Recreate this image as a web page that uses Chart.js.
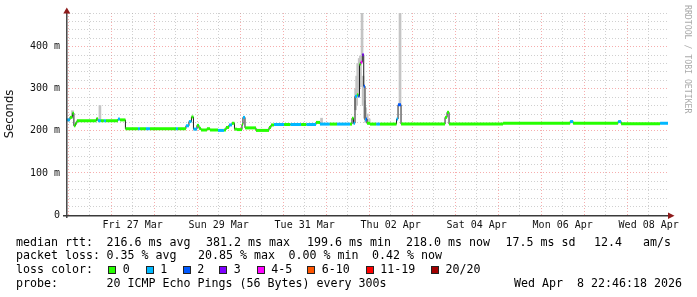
<!DOCTYPE html>
<html><head><meta charset="utf-8">
<script src="https://cdn.jsdelivr.net/npm/chart.js@4/dist/chart.umd.min.js"></script>
<style>
html,body{margin:0;padding:0;background:#fff;}
#wrap{position:relative;width:697px;height:297px;overflow:hidden;background:#fff;}
canvas{position:absolute;left:0;top:0;}
.t{position:absolute;font-family:"DejaVu Sans Mono",monospace;font-size:11.63px;line-height:14px;color:#000;white-space:pre;}
.box{position:absolute;width:6px;height:6px;border:1px solid #222;}
#wm{position:absolute;left:683px;top:5px;writing-mode:vertical-rl;font-family:"DejaVu Sans Mono",monospace;font-size:8.2px;line-height:9px;color:#aaa;white-space:pre;}
</style></head><body>
<div id="wrap"><canvas id="c" width="697" height="297"></canvas><div id="legend"></div><div id="wm">RRDTOOL / TOBI OETIKER</div></div>
<script>
// ---- time axis: hours since Thu 26 Mar 00:00 ----
const tEnd = 334.77;            // Wed 08 Apr 22:46
const tStart = tEnd - 336;      // 14 days earlier
const xTickHours  = [36, 84, 132, 180, 228, 276, 324];
const xTickLabels = ['Fri 27 Mar', 'Sun 29 Mar', 'Tue 31 Mar', 'Thu 02 Apr', 'Sat 04 Apr', 'Mon 06 Apr', 'Wed 08 Apr'];
const yTickValues = [0, 100, 200, 300, 400];
const yTickLabels = ['0', '100 m', '200 m', '300 m', '400 m'];

// ---- median rtt (ms), step series: value holds from time until next time ----
const medTimes = [-1.23, 0.95, 2.35, 3.18, 4.02, 4.86, 15.75, 16.58, 18.26, 19.93, 21.05, 27.75, 28.87, 31.94,
  38.92, 40.03, 43.38, 45.62, 60.13, 61.25, 65.72, 67.39, 68.79, 69.91, 71.86, 72.98, 74.09, 77.44, 79.12,
  83.59, 86.94, 88.05, 89.73, 91.4, 92.8, 94.19, 96.99, 97.54, 98.66, 104.8, 112.06, 113.18, 114.85,
  120.5, 124.0, 130.0, 133.0, 138.3, 140.54, 146.0, 150.0, 157.29, 158.4, 159.24, 160.08, 161.2, 161.92,
  162.59, 163.26, 164.15, 164.94, 165.66, 166.22, 166.78, 168.45, 172.0, 174.0, 183.25, 184.09, 185.76,
  210.33, 211.45, 212.56, 242.71, 280.12, 281.8, 306.92, 308.6, 330.37];
const medValues = [226, 232, 242, 212, 218, 224, 229, 224, 224, 224, 224, 228, 226, 205,
  205, 205, 205, 205, 205, 205, 212, 222, 233, 204, 213, 206, 202, 205, 202,
  201, 202, 208, 214, 218, 204, 203, 215, 232, 207, 201, 208, 214, 215,
  215, 215, 215, 215, 220, 216, 216, 216, 216, 230, 218, 282, 286, 282,
  358, 363, 381, 306, 226, 228, 218, 216, 216, 216, 228, 262, 216,
  232, 244, 216, 218, 222, 218, 222, 217, 218];
// loss bracket index per step (0:"0",1:"1",2:"2",3:"3",4:"4-5",5:"6-10",6:"11-19",7:"20/20")
const medLoss = [1, 0, 0, 0, 0, 0, 0, 1, 0, 1, 0, 1, 0, 0,
  1, 0, 1, 0, 1, 0, 1, 1, 0, 1, 0, 0, 0, 0, 0,
  1, 0, 0, 1, 0, 0, 0, 0, 1, 0, 0, 0, 0, 1,
  0, 1, 0, 1, 0, 1, 0, 1, 0, 0, 1, 1, 0, 2,
  0, 4, 3, 2, 1, 2, 0, 0, 1, 0, 1, 2, 0,
  0, 0, 0, 0, 1, 0, 1, 0, 1];

// ---- smoke (ping spread, ms) ----
const smokeTimes = [2.35, 17.7, 141.4, 160.4, 161.0, 161.6, 162.4, 163.1, 164.0, 164.6, 165.3, 166.0, 166.9, 168.0, 185.2];
const smokeLow   = [236, 226, 216, 250, 262, 286, 300, 305, 381, 260, 230, 220, 218, 216, 262];
const smokeHigh  = [248, 260, 230, 300, 330, 360, 372, 378, 500, 330, 272, 255, 240, 228, 500];

// ---- legend texts ----
const lossLabels = ['0', '1', '2', '3', '4-5', '6-10', '11-19', '20/20'];
const lossColors = ['#26ff00', '#00b8ff', '#0059ff', '#7e00ff', '#ff00ff', '#ff5500', '#ff0000', '#a10000'];
const medianStats = ['216.6 ms avg', '381.2 ms max', '199.6 ms min', '218.0 ms now', '17.5 ms sd', '12.4   am/s'];
const lossStats = ['0.35 % avg', '20.85 % max', '0.00 % min', '0.42 % now'];
const probeText = '20 ICMP Echo Pings (56 Bytes) every 300s';
const stampText = 'Wed Apr  8 22:46:18 2026';

// ---- build legend (HTML text) ----
const L = document.getElementById('legend');
function txt(x, y, s) { const d = document.createElement('div'); d.className = 't'; d.style.left = x + 'px'; d.style.top = y + 'px'; d.textContent = s; L.appendChild(d); return d; }
const medX = [106.5, 206, 307, 406, 505.5, 594];
txt(16, 235, 'median rtt:'); medianStats.forEach((s, i) => txt(medX[i], 235, s));
const lossX = [106.5, 198, 288.5, 372];
txt(16, 248.3, 'packet loss:'); lossStats.forEach((s, i) => txt(lossX[i], 248.3, s));
txt(16, 262.3, 'loss color:');
const boxX = [108.3, 145.7, 182.7, 219.3, 256.7, 307.3, 365.7, 431];
lossLabels.forEach((s, i) => {
  const b = document.createElement('div'); b.className = 'box';
  b.style.left = boxX[i] + 'px'; b.style.top = '265.6px'; b.style.background = lossColors[i]; L.appendChild(b);
  txt(boxX[i] + 14.5, 262.3, s);
});
txt(16, 275.7, 'probe:'); txt(106.5, 275.7, probeText);
const st = txt(0, 275.7, stampText); st.style.left = 'auto'; st.style.right = '15px';

// ---- chart data built from arrays ----
const medPoints = medTimes.map((t, i) => ({x: t, y: medValues[i]}));
medPoints.push({x: tEnd, y: medValues[medValues.length - 1]});
const bandPoints = [];
medTimes.forEach((t, i) => {
  const t2 = i + 1 < medTimes.length ? medTimes[i + 1] : tEnd;
  bandPoints.push({x: t, y: medValues[i]}, {x: t2, y: medValues[i]}, {x: t2, y: null});
});
const smokeOuter = smokeTimes.map((t, i) => ({x: t, y: [smokeLow[i], smokeHigh[i]]}));

const gridHours = [];
for (let h = 0; h <= tEnd; h += 12) gridHours.push(h);
const yGrid = [];
for (let v = 0; v <= 480; v += 20) yGrid.push(v);

const majorGrid = 'rgba(240,120,120,0.6)';
const minorGrid = 'rgba(170,170,170,0.55)';

const axesPlugin = {
  id: 'rrdAxes',
  afterDatasetsDraw(chart) {
    const {ctx, chartArea: a} = chart;
    ctx.save();
    ctx.strokeStyle = '#3a3a3a'; ctx.lineWidth = 1.4;
    ctx.beginPath();
    ctx.moveTo(a.left - 3, a.bottom + 0.7); ctx.lineTo(a.right + 2, a.bottom + 0.7);
    ctx.moveTo(a.left + 0.8, a.bottom + 3); ctx.lineTo(a.left + 0.8, a.top - 3);
    ctx.stroke();
    ctx.fillStyle = '#8e1b1b';
    ctx.beginPath();
    ctx.moveTo(a.right + 6.5, a.bottom + 0.7); ctx.lineTo(a.right, a.bottom - 2.6); ctx.lineTo(a.right, a.bottom + 4); ctx.closePath(); ctx.fill();
    ctx.beginPath();
    ctx.moveTo(a.left + 0.8, a.top - 5.5); ctx.lineTo(a.left - 2.7, a.top + 0.5); ctx.lineTo(a.left + 4.3, a.top + 0.5); ctx.closePath(); ctx.fill();
    ctx.restore();
  }
};

new Chart(document.getElementById('c'), {
  type: 'line',
  data: {datasets: [
    {type: 'line', label: 'median (loss colour)', data: bandPoints, borderWidth: 3, pointRadius: 0, spanGaps: false,
      borderColor: lossColors[0], segment: {borderColor: c => lossColors[medLoss[Math.floor(c.p0DataIndex / 3)]]}, order: 0, clip: 0},
    {type: 'line', label: 'median', data: medPoints, stepped: true, borderColor: '#202020', borderWidth: 1, pointRadius: 0, order: 1, clip: 0},
    {type: 'bar', label: 'smoke', data: smokeOuter, backgroundColor: '#c4c4c4', barThickness: 2, grouped: false, order: 2, clip: 0}
  ]},
  options: {
    responsive: false, animation: false, devicePixelRatio: 1,
    layout: {padding: {left: 0, right: 29, top: 13, bottom: 62}},
    plugins: {legend: {display: false}, tooltip: {enabled: false}},
    events: [],
    scales: {
      x: {type: 'linear', min: tStart, max: tEnd, offset: false,
        afterBuildTicks: s => { s.ticks = gridHours.map(v => ({value: v})); },
        afterFit: s => { s.height = 20; },
        ticks: {autoSkip: false, maxRotation: 0, padding: 4, color: '#111',
          font: {family: 'DejaVu Sans Mono', size: 10},
          callback: v => { const i = xTickHours.indexOf(v); return i >= 0 ? xTickLabels[i] : ''; }},
        grid: {offset: false, drawTicks: false, lineWidth: 1, color: c => (c.tick && c.tick.value % 24 === 0) ? majorGrid : minorGrid},
        border: {display: false, dash: [1, 2]}
      },
      y: {type: 'linear', min: 0, max: 480, beginAtZero: true,
        afterBuildTicks: s => { s.ticks = yGrid.map(v => ({value: v})); },
        afterFit: s => { s.width = 66; },
        ticks: {autoSkip: false, padding: 6, color: '#111',
          font: {family: 'DejaVu Sans Mono', size: 10},
          callback: v => { const i = yTickValues.indexOf(v); return i >= 0 ? yTickLabels[i] : ''; }},
        grid: {drawTicks: false, lineWidth: 1, color: c => (c.tick && c.tick.value % 100 === 0) ? majorGrid : minorGrid},
        border: {display: false, dash: [1, 2]},
        title: {display: true, text: 'Seconds', color: '#111', font: {family: 'DejaVu Sans', size: 11.6}, padding: {top: 3, bottom: 0}}
      }
    }
  },
  plugins: [axesPlugin]
});
</script>
</body></html>
